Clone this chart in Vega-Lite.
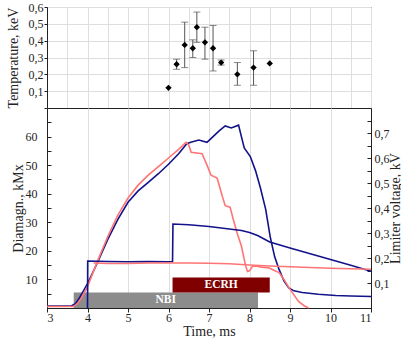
{
  "$schema": "https://vega.github.io/schema/vega-lite/v6.json",
  "padding": {"left": 5, "top": 0, "right": 0, "bottom": 0},
  "config": {
    "font": "Liberation Serif",
    "view": {"stroke": "#222", "strokeWidth": 1},
    "axis": {"labelFont": "Liberation Serif", "titleFont": "Liberation Serif", "labelFontSize": 12, "titleFontSize": 14, "titleFontWeight": "normal", "labelColor": "#222", "titleColor": "#222", "domainColor": "#222", "tickColor": "#222", "gridColor": "#dedede", "labelOverlap": false}
  },
  "datasets": {
    "temp": [
      {"t": 6.0, "T": 0.12, "lo": null, "hi": null},
      {"t": 6.2, "T": 0.26, "lo": 0.23, "hi": 0.29},
      {"t": 6.4, "T": 0.375, "lo": 0.24, "hi": 0.51},
      {"t": 6.6, "T": 0.355, "lo": 0.30, "hi": 0.405},
      {"t": 6.7, "T": 0.48, "lo": 0.39, "hi": 0.57},
      {"t": 6.9, "T": 0.39, "lo": 0.29, "hi": 0.48},
      {"t": 7.1, "T": 0.355, "lo": 0.22, "hi": 0.49},
      {"t": 7.3, "T": 0.27, "lo": 0.255, "hi": 0.285},
      {"t": 7.7, "T": 0.20, "lo": 0.135, "hi": 0.27},
      {"t": 8.1, "T": 0.24, "lo": 0.135, "hi": 0.34},
      {"t": 8.5, "T": 0.265, "lo": null, "hi": null}
    ],
    "bars": [
      {"label": "NBI", "start": 3.66, "end": 8.21, "lo": 0, "hi": 5.4, "mid": 5.93, "ymid": 2.7},
      {"label": "ECRH", "start": 6.1, "end": 8.5, "lo": 5.4, "hi": 10.7, "mid": 7.3, "ymid": 8.05}
    ],
    "diam": [
      {"s": "A", "t": 3.0, "v": 0.7}, {"s": "A", "t": 3.6, "v": 0.7}, {"s": "A", "t": 3.7, "v": 1.5}, {"s": "A", "t": 3.8, "v": 3.5}, {"s": "A", "t": 3.9, "v": 6}, {"s": "A", "t": 4.0, "v": 8.5}, {"s": "A", "t": 4.25, "v": 16}, {"s": "A", "t": 4.5, "v": 24}, {"s": "A", "t": 4.75, "v": 31}, {"s": "A", "t": 5.0, "v": 37}, {"s": "A", "t": 5.25, "v": 41}, {"s": "A", "t": 5.5, "v": 44}, {"s": "A", "t": 5.75, "v": 47}, {"s": "A", "t": 6.0, "v": 50.3}, {"s": "A", "t": 6.25, "v": 54}, {"s": "A", "t": 6.45, "v": 57.5}, {"s": "A", "t": 6.55, "v": 58}, {"s": "A", "t": 6.75, "v": 58.8}, {"s": "A", "t": 6.95, "v": 58}, {"s": "A", "t": 7.1, "v": 60}, {"s": "A", "t": 7.25, "v": 62}, {"s": "A", "t": 7.4, "v": 63.7}, {"s": "A", "t": 7.55, "v": 63}, {"s": "A", "t": 7.73, "v": 64}, {"s": "A", "t": 7.8, "v": 60}, {"s": "A", "t": 7.87, "v": 56}, {"s": "A", "t": 8.02, "v": 53}, {"s": "A", "t": 8.15, "v": 48}, {"s": "A", "t": 8.27, "v": 42}, {"s": "A", "t": 8.4, "v": 34.5}, {"s": "A", "t": 8.51, "v": 25}, {"s": "A", "t": 8.62, "v": 18}, {"s": "A", "t": 8.73, "v": 13.5}, {"s": "A", "t": 8.85, "v": 9.5}, {"s": "A", "t": 8.97, "v": 7}, {"s": "A", "t": 9.1, "v": 6}, {"s": "A", "t": 9.3, "v": 5.4}, {"s": "A", "t": 9.7, "v": 4.8}, {"s": "A", "t": 10.13, "v": 4.4}, {"s": "A", "t": 10.5, "v": 4.2}, {"s": "A", "t": 11.0, "v": 4},
      {"s": "B", "t": 3.0, "v": 0.5}, {"s": "B", "t": 3.65, "v": 0.5}, {"s": "B", "t": 3.75, "v": 1.5}, {"s": "B", "t": 3.85, "v": 3.5}, {"s": "B", "t": 4.0, "v": 7.5}, {"s": "B", "t": 4.25, "v": 16.5}, {"s": "B", "t": 4.5, "v": 25}, {"s": "B", "t": 4.75, "v": 32.5}, {"s": "B", "t": 5.0, "v": 38.5}, {"s": "B", "t": 5.25, "v": 43}, {"s": "B", "t": 5.5, "v": 46.5}, {"s": "B", "t": 5.75, "v": 49.5}, {"s": "B", "t": 6.0, "v": 52.5}, {"s": "B", "t": 6.25, "v": 55.5}, {"s": "B", "t": 6.43, "v": 58}, {"s": "B", "t": 6.5, "v": 57}, {"s": "B", "t": 6.56, "v": 54.5}, {"s": "B", "t": 6.83, "v": 54}, {"s": "B", "t": 6.95, "v": 50}, {"s": "B", "t": 7.05, "v": 46.5}, {"s": "B", "t": 7.2, "v": 45.5}, {"s": "B", "t": 7.33, "v": 39}, {"s": "B", "t": 7.4, "v": 35.8}, {"s": "B", "t": 7.52, "v": 35.3}, {"s": "B", "t": 7.6, "v": 31}, {"s": "B", "t": 7.7, "v": 26}, {"s": "B", "t": 7.8, "v": 21.7}, {"s": "B", "t": 7.9, "v": 15}, {"s": "B", "t": 7.95, "v": 12.8}, {"s": "B", "t": 8.0, "v": 13}, {"s": "B", "t": 8.07, "v": 14.5}, {"s": "B", "t": 8.15, "v": 14.7}, {"s": "B", "t": 8.3, "v": 14.3}, {"s": "B", "t": 8.49, "v": 14}, {"s": "B", "t": 8.6, "v": 13.2}, {"s": "B", "t": 8.73, "v": 12.4}, {"s": "B", "t": 8.85, "v": 10}, {"s": "B", "t": 8.97, "v": 7.2}, {"s": "B", "t": 9.1, "v": 4.5}, {"s": "B", "t": 9.21, "v": 2.3}, {"s": "B", "t": 9.35, "v": 0.8}, {"s": "B", "t": 9.46, "v": 0}
    ],
    "volt": [
      {"s": "C", "t": 4.0, "V": 0}, {"s": "C", "t": 4.005, "V": 0.188}, {"s": "C", "t": 4.5, "V": 0.186}, {"s": "C", "t": 5.0, "V": 0.185}, {"s": "C", "t": 5.5, "V": 0.186}, {"s": "C", "t": 6.0, "V": 0.185}, {"s": "C", "t": 6.1, "V": 0.186}, {"s": "C", "t": 6.11, "V": 0.336}, {"s": "C", "t": 6.5, "V": 0.333}, {"s": "C", "t": 7.0, "V": 0.326}, {"s": "C", "t": 7.5, "V": 0.316}, {"s": "C", "t": 7.8, "V": 0.31}, {"s": "C", "t": 8.0, "V": 0.302}, {"s": "C", "t": 8.2, "V": 0.29}, {"s": "C", "t": 8.5, "V": 0.264}, {"s": "C", "t": 9.0, "V": 0.24}, {"s": "C", "t": 9.5, "V": 0.217}, {"s": "C", "t": 10.0, "V": 0.194}, {"s": "C", "t": 10.5, "V": 0.171}, {"s": "C", "t": 11.0, "V": 0.147},
      {"s": "D", "t": 4.15, "V": 0.18}, {"s": "D", "t": 4.5, "V": 0.178}, {"s": "D", "t": 5.0, "V": 0.178}, {"s": "D", "t": 5.5, "V": 0.18}, {"s": "D", "t": 6.0, "V": 0.18}, {"s": "D", "t": 6.5, "V": 0.18}, {"s": "D", "t": 7.0, "V": 0.179}, {"s": "D", "t": 7.5, "V": 0.177}, {"s": "D", "t": 8.0, "V": 0.172}, {"s": "D", "t": 8.5, "V": 0.168}, {"s": "D", "t": 9.0, "V": 0.165}, {"s": "D", "t": 9.5, "V": 0.162}, {"s": "D", "t": 10.0, "V": 0.159}, {"s": "D", "t": 10.5, "V": 0.157}, {"s": "D", "t": 11.0, "V": 0.155}
    ]
  },
  "spacing": 0,
  "bounds": "flush",
  "vconcat": [
    {
      "width": 324,
      "height": 101,
      "data": {"name": "temp"},
      "encoding": {
        "x": {"field": "t", "type": "quantitative", "scale": {"domain": [3, 11], "nice": false, "zero": false},
              "axis": {"title": null, "labels": false, "ticks": false, "domain": false, "values": [3, 3.5, 4, 4.5, 5, 5.5, 6, 6.5, 7, 7.5, 8, 8.5, 9, 9.5, 10, 10.5, 11], "grid": true}}
      },
      "layer": [
        {
          "transform": [{"filter": "datum.lo != null"}],
          "mark": {"type": "rule", "color": "#555", "strokeWidth": 1},
          "encoding": {
            "y": {"field": "lo", "type": "quantitative", "scale": {"domain": [0, 0.6], "nice": false},
                  "axis": {"title": "Temperature, keV", "values": [0, 0.1, 0.2, 0.3, 0.4, 0.5, 0.6], "grid": true, "tickSize": 3, "labelPadding": 1, "titlePadding": 8,
                           "labelExpr": "datum.value > 0 ? replace(format(datum.value, '.1f'), '.', ',') : ''"}},
            "y2": {"field": "hi"}
          }
        },
        {
          "transform": [{"filter": "datum.lo != null"}],
          "mark": {"type": "tick", "orient": "horizontal", "color": "#555", "size": 7, "thickness": 1},
          "encoding": {"y": {"field": "lo", "type": "quantitative", "scale": {"domain": [0, 0.6], "nice": false},
                  "axis": {"title": "Temperature, keV", "values": [0, 0.1, 0.2, 0.3, 0.4, 0.5, 0.6], "grid": true, "tickSize": 3, "labelPadding": 1, "titlePadding": 8,
                           "labelExpr": "datum.value > 0 ? replace(format(datum.value, '.1f'), '.', ',') : ''"}}}
        },
        {
          "transform": [{"filter": "datum.lo != null"}],
          "mark": {"type": "tick", "orient": "horizontal", "color": "#555", "size": 7, "thickness": 1},
          "encoding": {"y": {"field": "hi", "type": "quantitative", "scale": {"domain": [0, 0.6], "nice": false},
                  "axis": {"title": "Temperature, keV", "values": [0, 0.1, 0.2, 0.3, 0.4, 0.5, 0.6], "grid": true, "tickSize": 3, "labelPadding": 1, "titlePadding": 8,
                           "labelExpr": "datum.value > 0 ? replace(format(datum.value, '.1f'), '.', ',') : ''"}}}
        },
        {
          "mark": {"type": "point", "shape": "diamond", "filled": true, "color": "#000", "size": 40, "opacity": 1},
          "encoding": {"y": {"field": "T", "type": "quantitative", "scale": {"domain": [0, 0.6], "nice": false},
                  "axis": {"title": "Temperature, keV", "values": [0, 0.1, 0.2, 0.3, 0.4, 0.5, 0.6], "grid": true, "tickSize": 3, "labelPadding": 1, "titlePadding": 8,
                           "labelExpr": "datum.value > 0 ? replace(format(datum.value, '.1f'), '.', ',') : ''"}}}
        }
      ]
    },
    {
      "width": 324,
      "height": 200,
      "resolve": {"scale": {"y": "independent"}, "axis": {"y": "independent"}},
      "layer": [
        {
          "encoding": {
            "x": {"field": "t", "type": "quantitative", "scale": {"domain": [3, 11], "nice": false, "zero": false},
                  "axis": {"title": "Time, ms", "values": [3, 3.5, 4, 4.5, 5, 5.5, 6, 6.5, 7, 7.5, 8, 8.5, 9, 9.5, 10, 10.5, 11], "tickSize": 4, "labelPadding": 0, "labelDx": 5, "titlePadding": 1, "grid": true,
                           "labelExpr": "datum.value % 1 == 0 ? datum.label : ''"}},
            "y": {"field": "v", "type": "quantitative", "scale": {"domain": [0, 70], "nice": false},
                  "axis": {"title": "Diamagn., kMx", "values": [0, 5, 10, 15, 20, 25, 30, 35, 40, 45, 50, 55, 60, 65, 70], "grid": false, "tickSize": -4, "labelPadding": 14, "titlePadding": 0,
                           "labelExpr": "(datum.value % 10 == 0 && datum.value > 0 && datum.value < 70) ? datum.label : ''"}}
          },
          "layer": [
            {
              "data": {"name": "bars"},
              "mark": {"type": "rect"},
              "encoding": {
                "x": {"field": "start", "type": "quantitative"},
                "x2": {"field": "end"},
                "y": {"field": "lo", "type": "quantitative"},
                "y2": {"field": "hi"},
                "fill": {"field": "label", "type": "nominal", "scale": {"domain": ["NBI", "ECRH"], "range": ["#8c8c8c", "#800000"]}, "legend": null}
              }
            },
            {
              "data": {"name": "bars"},
              "mark": {"type": "text", "color": "white", "fontWeight": "bold", "fontSize": 11.5, "font": "Liberation Serif", "baseline": "middle", "align": "center"},
              "encoding": {
                "x": {"field": "mid", "type": "quantitative"},
                "y": {"field": "ymid", "type": "quantitative"},
                "text": {"field": "label"}
              }
            },
            {
              "data": {"name": "diam"},
              "mark": {"type": "line", "strokeWidth": 1.6},
              "encoding": {
                "stroke": {"field": "s", "type": "nominal", "scale": {"domain": ["A", "B", "C", "D"], "range": ["#12128a", "#ff7474", "#12128a", "#ff7474"]}, "legend": null}
              }
            }
          ]
        },
        {
          "data": {"name": "volt"},
          "mark": {"type": "line", "strokeWidth": 1.6},
          "encoding": {
            "x": {"field": "t", "type": "quantitative", "scale": {"domain": [3, 11], "nice": false, "zero": false}},
            "y": {"field": "V", "type": "quantitative", "scale": {"domain": [0, 0.8], "nice": false},
                  "axis": {"orient": "right", "title": "Limiter voltage, kV", "titleAngle": 270, "values": [0, 0.05, 0.1, 0.15, 0.2, 0.25, 0.3, 0.35, 0.4, 0.45, 0.5, 0.55, 0.6, 0.65, 0.7, 0.75, 0.8], "grid": false, "tickSize": -4, "labelPadding": 7, "titlePadding": 13,
                           "labelExpr": "(round(datum.value * 20) % 2 == 0 && datum.value > 0 && datum.value < 0.75) ? replace(format(datum.value, '.1f'), '.', ',') : ''"}},
            "stroke": {"field": "s", "type": "nominal", "scale": {"domain": ["A", "B", "C", "D"], "range": ["#12128a", "#ff7474", "#12128a", "#ff7474"]}, "legend": null}
          }
        }
      ]
    }
  ]
}
